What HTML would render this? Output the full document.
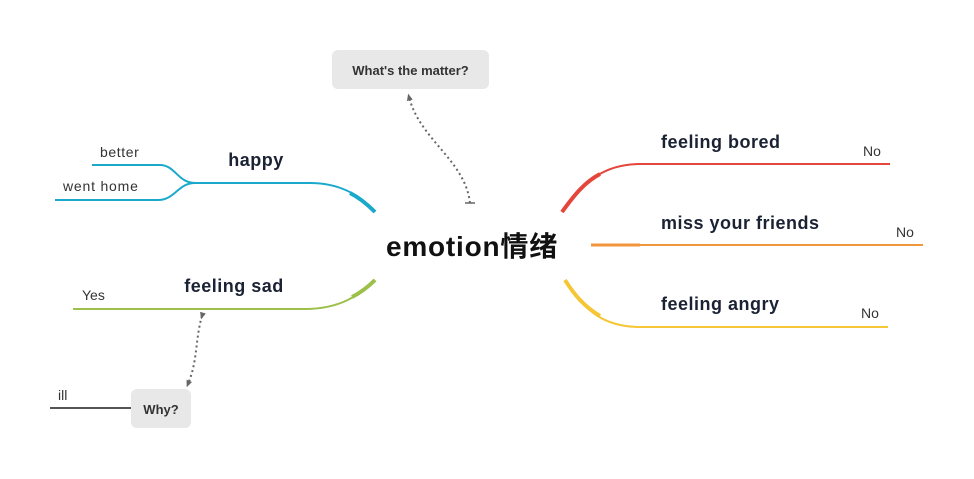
<!DOCTYPE html>
<html><head><meta charset="utf-8"><style>
html,body{margin:0;padding:0;background:#fff;}
svg{display:block;}
text{font-family:"Liberation Sans","Noto Sans CJK SC",sans-serif;}
</style></head><body>
<svg width="974" height="479" viewBox="0 0 974 479" xmlns="http://www.w3.org/2000/svg">
<defs>
<marker id="ah" markerUnits="userSpaceOnUse" markerWidth="7" markerHeight="7" refX="3.5" refY="3.5" orient="auto"><path d="M0,0.5 L7,3.5 L0,6.5 z" fill="#666"/></marker>
</defs>
<!-- happy -->
<path d="M190,183 L310,183 C340,183 360,195 375,212" stroke="#1aa9cb" stroke-width="2" fill="none"/>
<path d="M350,193 C360,198 368,205 375,212" stroke="#1aa9cb" stroke-width="4" fill="none"/>
<path d="M92,165 L160,165 C175,165 178,183 195,183" stroke="#1aa9cb" stroke-width="2" fill="none"/>
<path d="M55,200 L158,200 C175,200 178,183 195,183" stroke="#1aa9cb" stroke-width="2" fill="none"/>
<!-- sad -->
<path d="M73,309 L305,309 C340,309 360,295 375,280" stroke="#9cc049" stroke-width="2" fill="none"/>
<path d="M352,297 C362,292 369,286 375,280" stroke="#9cc049" stroke-width="4" fill="none"/>
<!-- bored -->
<path d="M562,212 C585,180 605,164 640,164 L890,164" stroke="#e5453a" stroke-width="2" fill="none"/>
<path d="M562,212 C575,194 585,182 600,174" stroke="#e5453a" stroke-width="4" fill="none"/>
<!-- friends -->
<line x1="640" y1="245" x2="923" y2="245" stroke="#f0963c" stroke-width="2"/>
<line x1="591" y1="245" x2="640" y2="245" stroke="#f0963c" stroke-width="3"/>
<!-- angry -->
<path d="M565,280 C585,312 605,327 640,327 L888,327" stroke="#f5c636" stroke-width="2" fill="none"/>
<path d="M565,280 C575,296 585,307 600,316" stroke="#f5c636" stroke-width="4" fill="none"/>
<!-- ill -->
<line x1="50" y1="408" x2="131" y2="408" stroke="#555" stroke-width="2"/>
<!-- boxes -->
<rect x="332" y="50" width="157" height="39" rx="6" fill="#e8e8e8"/>
<text x="410.5" y="75" font-size="13" font-weight="bold" fill="#333" text-anchor="middle">What's the matter?</text>
<rect x="131" y="389" width="60" height="39" rx="6" fill="#e8e8e8"/>
<text x="161" y="414" font-size="13" font-weight="bold" fill="#333" text-anchor="middle">Why?</text>
<!-- dotted -->
<path d="M470,203 C465,160 420,140 409,97" stroke="#666" stroke-width="2" stroke-dasharray="2,3" fill="none" marker-end="url(#ah)"/>
<line x1="465" y1="203" x2="475" y2="203" stroke="#666" stroke-width="1.5"/>
<path d="M202,316 C195,340 198,360 188,384" stroke="#666" stroke-width="2" stroke-dasharray="2,3" fill="none" marker-end="url(#ah)" marker-start="url(#ah)"/>
<!-- labels -->
<text x="472" y="256" font-size="28" font-weight="bold" fill="#111" text-anchor="middle" letter-spacing="0.8">emotion情绪</text>
<text x="256" y="166" font-size="18" font-weight="bold" fill="#1a2233" text-anchor="middle" letter-spacing="0.5">happy</text>
<text x="234" y="292" font-size="18" font-weight="bold" fill="#1a2233" text-anchor="middle" letter-spacing="0.5">feeling sad</text>
<text x="661" y="148" font-size="18" font-weight="bold" fill="#1a2233" letter-spacing="0.5">feeling bored</text>
<text x="661" y="229" font-size="18" font-weight="bold" fill="#1a2233" letter-spacing="0.5">miss your friends</text>
<text x="661" y="310" font-size="18" font-weight="bold" fill="#1a2233" letter-spacing="0.5">feeling angry</text>
<text x="100" y="157" font-size="14" fill="#333" letter-spacing="0.6">better</text>
<text x="63" y="191" font-size="14" fill="#333" letter-spacing="0.8">went home</text>
<text x="82" y="300" font-size="14" fill="#333">Yes</text>
<text x="58" y="400" font-size="14" fill="#333">ill</text>
<text x="863" y="156" font-size="14" fill="#333">No</text>
<text x="896" y="237" font-size="14" fill="#333">No</text>
<text x="861" y="318" font-size="14" fill="#333">No</text>
</svg>
</body></html>
